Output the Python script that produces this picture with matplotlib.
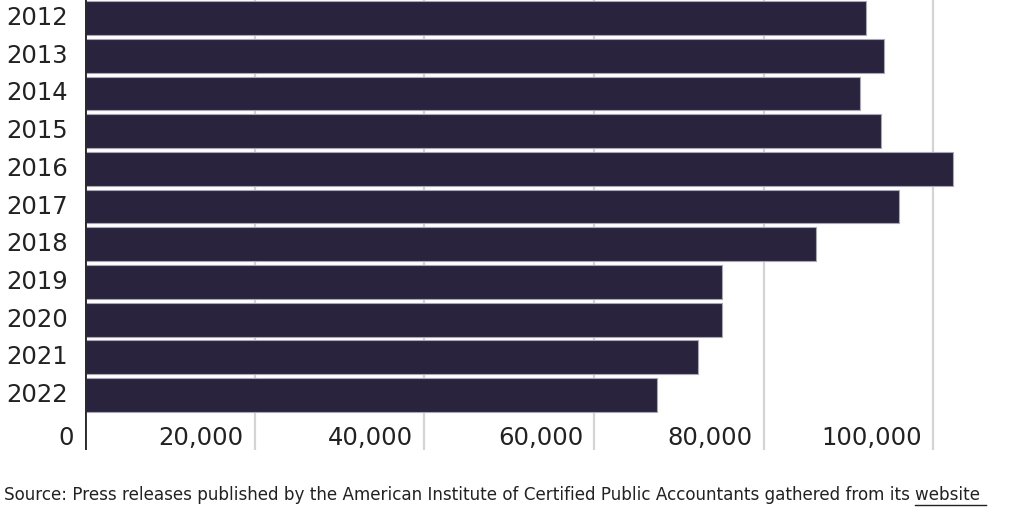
import matplotlib.pyplot as plt
from matplotlib.lines import Line2D

years = ['2012', '2013', '2014', '2015', '2016', '2017', '2018', '2019', '2020', '2021', '2022']
candidates = [92100, 94200, 91400, 93800, 102300, 95900, 86100, 75100, 75100, 72300, 67400]
xticks = [0, 20000, 40000, 60000, 80000, 100000]
xtick_labels = ['0', '20,000', '40,000', '60,000', '80,000', '100,000']

plt.rcParams['font.family'] = ['DejaVu Sans']

fig = plt.figure(figsize=(10.24, 5.12), dpi=100)
# axes from x=85px to 1020px, y from 0 to 450px
ax = fig.add_axes([85 / 1024, 1 - 450 / 512, (1020 - 85) / 1024, 450 / 512])

xmax = (1020 - 85.5) / 8.48 * 1000
ax.set_xlim(0, xmax)
ax.set_ylim(11.46, -0.48)

pos = list(range(len(years)))
ax.barh(pos, candidates, height=0.9, color='#29233e', edgecolor='#a9a7b5', linewidth=0.8, zorder=3)

# gridlines
for t in xticks[1:]:
    ax.axvline(t, color='#d4d4d4', linewidth=1.6, zorder=1)

# y-axis line
ax.axvline(0, color='#2b2b2b', linewidth=2.8, zorder=4)

# tick labels drawn inside the plot area
for t, lab in zip(xticks, xtick_labels):
    ax.text(t - 1300, 11.15, lab, ha='right', va='center', fontsize=17.5, color='#222222')

for p, y in zip(pos, years):
    ax.text(-2000, p, y, ha='right', va='center', fontsize=17.5, color='#222222')

ax.set_xticks([])
ax.set_yticks([])
for s in ax.spines.values():
    s.set_visible(False)

src = fig.text(4 / 1024, 1 - 495 / 512,
               'Source: Press releases published by the American Institute of Certified Public Accountants gathered from its ',
               ha='left', va='center', fontsize=12.1, color='#222222')
fig.canvas.draw()
bb = src.get_window_extent()
link = fig.text(bb.x1 / 1024, 1 - 495 / 512, 'website ', ha='left', va='center',
                fontsize=12.1, color='#222222')
fig.canvas.draw()
lb = link.get_window_extent()
fig.add_artist(Line2D([lb.x0 / 1024, lb.x1 / 1024], [(lb.y0 - 1) / 512, (lb.y0 - 1) / 512],
                      color='#222222', linewidth=1.0))

fig.savefig('out.png', dpi=100)
